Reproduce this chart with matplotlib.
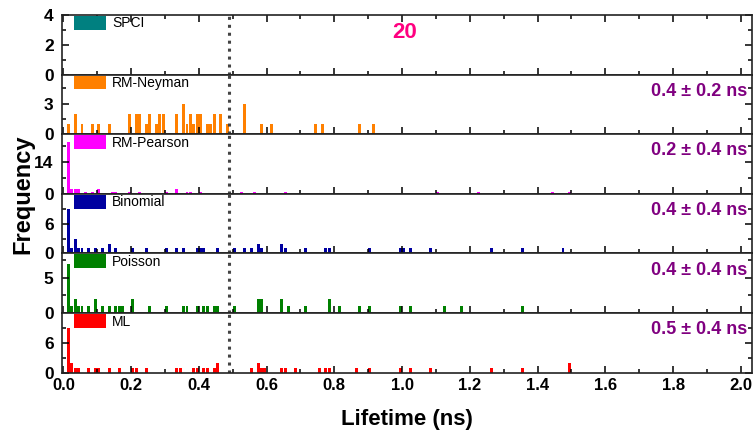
import matplotlib.pyplot as plt
from matplotlib.ticker import FixedLocator, MultipleLocator

plt.rcParams['font.family'] = ['Liberation Sans', 'DejaVu Sans']
plt.rcParams['font.weight'] = 'bold'
plt.rcParams['axes.labelweight'] = 'bold'

methods = ['SPCI', 'RM-Neyman', 'RM-Pearson', 'Binomial', 'Poisson', 'ML']
colors = ['#008080', '#FF8000', '#FF00FF', '#0000A0', '#008000', '#FF0000']
summaries = ['', '0.4 ± 0.2 ns', '0.2 ± 0.4 ns', '0.4 ± 0.4 ns',
             '0.4 ± 0.4 ns', '0.5 ± 0.4 ns']

# histogram bins (bin centre in ns) and counts for every estimator
spci_t = []
spci_n = []

neyman_t = [0.015, 0.035, 0.055, 0.085, 0.105, 0.135, 0.195, 0.215, 0.225,
            0.245, 0.255, 0.275, 0.285, 0.295, 0.335, 0.355, 0.365, 0.375,
            0.385, 0.395, 0.405, 0.425, 0.435, 0.445, 0.465, 0.485, 0.535,
            0.585, 0.615, 0.745, 0.765, 0.875, 0.915]
neyman_n = [1, 2, 1, 1, 1, 1, 2, 2, 2,
            1, 2, 1, 2, 2, 2, 3, 1, 2,
            1, 2, 2, 1, 1, 2, 2, 1, 3,
            1, 1, 1, 1, 1, 1]

pearson_t = [0.015, 0.025, 0.035, 0.045, 0.065, 0.085, 0.105, 0.145, 0.155,
             0.195, 0.225, 0.305, 0.335, 0.365, 0.375, 0.405, 0.525, 0.565,
             0.655, 1.105, 1.225, 1.445, 1.495]
pearson_n = [23, 2, 2, 2, 1, 1, 2, 1, 1,
             1, 1, 1, 2, 1, 1, 1, 1, 1,
             1, 1, 1, 1, 1]

binomial_t = [0.015, 0.025, 0.035, 0.045, 0.055, 0.075, 0.095, 0.115, 0.135,
              0.155, 0.205, 0.245, 0.305, 0.335, 0.355, 0.395, 0.405, 0.415,
              0.455, 0.505, 0.535, 0.555, 0.575, 0.585, 0.645, 0.655, 0.715,
              0.775, 0.785, 0.905, 0.995, 1.005, 1.025, 1.085, 1.265, 1.355,
              1.475]
binomial_n = [9, 1, 3, 1, 1, 1, 1, 1, 2,
              1, 1, 1, 1, 1, 1, 1, 1, 1,
              1, 1, 1, 1, 2, 1, 2, 1, 1,
              1, 1, 1, 1, 1, 1, 1, 1, 1,
              1]

poisson_t = [0.015, 0.025, 0.035, 0.045, 0.055, 0.075, 0.095, 0.115, 0.135,
             0.155, 0.165, 0.175, 0.205, 0.255, 0.305, 0.355, 0.365, 0.395,
             0.415, 0.425, 0.445, 0.455, 0.505, 0.575, 0.585, 0.645, 0.665,
             0.715, 0.785, 0.815, 0.875, 0.905, 0.995, 1.025, 1.125, 1.175,
             1.355]
poisson_n = [7, 1, 2, 1, 1, 1, 2, 1, 1,
             1, 1, 1, 2, 1, 1, 1, 1, 1,
             1, 1, 1, 1, 1, 2, 2, 2, 1,
             1, 2, 1, 1, 1, 1, 1, 1, 1,
             1]

ml_t = [0.015, 0.025, 0.035, 0.045, 0.075, 0.095, 0.105, 0.135, 0.165,
        0.205, 0.215, 0.245, 0.335, 0.345, 0.385, 0.395, 0.415, 0.425,
        0.445, 0.455, 0.555, 0.575, 0.585, 0.595, 0.645, 0.655, 0.685,
        0.755, 0.775, 0.785, 0.865, 0.905, 0.995, 1.025, 1.085, 1.265,
        1.355, 1.495]
ml_n = [9, 2, 1, 1, 1, 1, 1, 1, 1,
        1, 1, 1, 1, 1, 1, 1, 1, 1,
        1, 2, 1, 2, 1, 1, 1, 1, 1,
        1, 1, 1, 1, 1, 1, 1, 1, 1,
        1, 2]

lifetimes = [spci_t, neyman_t, pearson_t, binomial_t, poisson_t, ml_t]
counts = [spci_n, neyman_n, pearson_n, binomial_n, poisson_n, ml_n]

y_max = [4, 5.85, 26.4, 12, 8.45, 12]
y_major = [[0, 2, 4], [0, 3], [0, 14], [0, 6], [0, 5], [0, 6]]
y_minor = [[1, 3], [1.5, 4.5], [7, 21], [3, 9], [2.5, 7.5], [3, 9]]

mean_lifetime = 0.49

fig = plt.figure(figsize=(7.54, 4.33), dpi=100)
left, right = 62 / 754, 752 / 754
top, bottom = 1 - 15 / 433, 1 - 372.7 / 433
h = (top - bottom) / len(methods)

axes = []
for i, name in enumerate(methods):
    ax = fig.add_axes([left, top - (i + 1) * h, right - left, h])
    axes.append(ax)
    ax.bar(lifetimes[i], counts[i], width=0.0085, color=colors[i],
           linewidth=0)
    ax.set_xlim(-0.004, 2.033)
    ax.set_ylim(0, y_max[i])
    ax.yaxis.set_major_locator(FixedLocator(y_major[i]))
    ax.yaxis.set_minor_locator(FixedLocator(y_minor[i]))
    ax.xaxis.set_major_locator(MultipleLocator(0.2))
    ax.xaxis.set_minor_locator(MultipleLocator(0.1))
    ax.tick_params(which='both', direction='in', top=(i == 0), right=True,
                   width=1.1, labelsize=12)
    ax.tick_params(which='major', length=5)
    ax.tick_params(which='minor', length=3)
    ax.tick_params(axis='y', pad=6, labelsize=12.5)
    if i < len(methods) - 1:
        ax.tick_params(axis='x', labelbottom=False)
    for sp in ax.spines.values():
        sp.set_linewidth(1.2)
        sp.set_color('#222222')

    ax.axvline(mean_lifetime, color='#444444', lw=2.2,
               linestyle=(0, (1, 1.6)))

    handle = plt.Rectangle((0, 0), 1, 1, facecolor=colors[i],
                           edgecolor='none')
    ax.legend([handle], [name], loc='upper left',
              bbox_to_anchor=(0.017, 0.985), frameon=False,
              borderaxespad=0, borderpad=0, handlelength=2.3,
              handleheight=1.15, handletextpad=0.45,
              prop={'size': 10, 'weight': 'normal'})

    if summaries[i]:
        ax.text(0.993, 0.72, summaries[i], transform=ax.transAxes,
                ha='right', va='center', fontsize=13, color='#800080')

axes[0].text(0.497, 0.70, '20', transform=axes[0].transAxes,
             ha='center', va='center', fontsize=16, color='#FF0080')

axes[-1].set_xlabel('Lifetime (ns)', fontsize=16, labelpad=12)
fig.text(0.03, (top + bottom) / 2, 'Frequency', rotation=90,
         ha='center', va='center', fontsize=17, fontweight='bold')

fig.savefig('out.png', dpi=100)
